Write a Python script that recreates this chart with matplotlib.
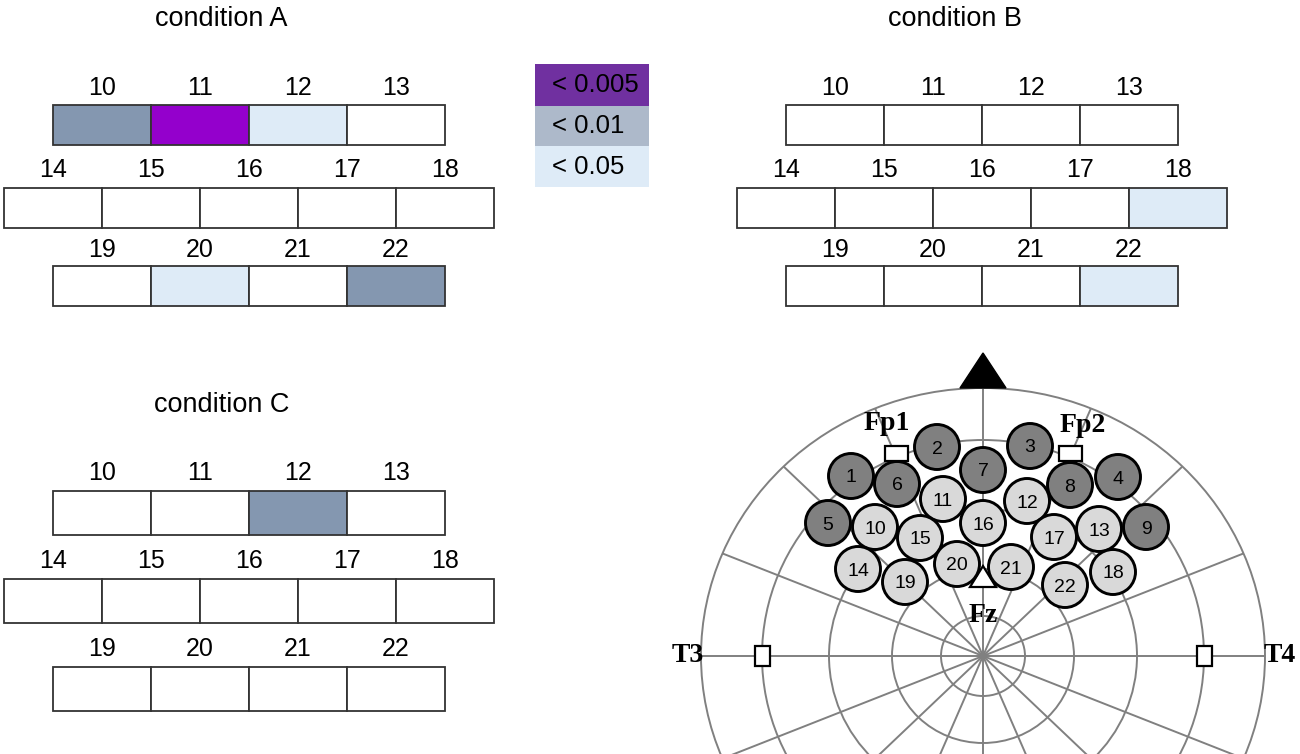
import numpy as np
import matplotlib
matplotlib.use("Agg")
import matplotlib.pyplot as plt
from matplotlib.patches import Rectangle, Ellipse, Circle, Polygon

# ---------------- data ----------------
grid_rows = [[10, 11, 12, 13], [14, 15, 16, 17, 18], [19, 20, 21, 22]]
condition_names = ["condition A", "condition B", "condition C"]
# significance level per channel: 1 = p<0.05, 2 = p<0.01, 3 = p<0.005 (missing = n.s.)
sig_A = {10: 2, 11: 3, 12: 1, 20: 1, 22: 2}
sig_B = {18: 1, 22: 1}
sig_C = {12: 2}
condition_sig = [sig_A, sig_B, sig_C]
legend_labels = ["< 0.005", "< 0.01", "< 0.05"]
legend_levels = [3, 2, 1]

# electrode montage (relative to head centre, px units, y up)
electrode_ids = list(range(1, 23))
electrode_dx = [-132, -46, 47, 135, -155, -86, 0, 87, 163, -108, -40, 44, 116,
                -125, -63, 0, 71, 130, -78, -26, 28, 82]
electrode_dy = [180, 209, 210, 179, 133, 172, 186, 171, 129, 129, 157, 155, 127,
                87, 118, 133, 119, 84, 74, 92, 89, 71]
dark_electrodes = [1, 2, 3, 4, 5, 6, 7, 8, 9]

ref_names = ["Fp1", "Fp2", "T3", "T4"]
ref_dx = [-87, 87, -221, 221]
ref_dy = [203, 203, 0, 0]
ref_label_dx = [-96, 100, -295, 297]
ref_label_dy = [233, 230, 0, 0]

# ---------------- styles ----------------
cell_colors = {0: "white", 1: "#DEEBF7", 2: "#8497B0", 3: "#9400CC"}
legend_colors = {3: "#7030A0", 2: "#ADB9CA", 1: "#DEEBF7"}
SANS = "Liberation Sans"
SERIF = "Liberation Serif"

fig = plt.figure(figsize=(13, 7.54), dpi=100)
ax = fig.add_axes([0, 0, 1, 1])
ax.set_xlim(0, 1300)
ax.set_ylim(754, 0)
ax.axis("off")

# ---------------- grid panels ----------------
cell_w = 98
panels = [
    dict(x0=53, tops=[105, 188, 266], h=40, base=[95, 177, 257], tx=221, ty=26),
    dict(x0=786, tops=[105, 188, 266], h=40, base=[95, 177, 257], tx=955, ty=26),
    dict(x0=53, tops=[491, 579, 667], h=44, base=[480, 568, 656], tx=222, ty=412),
]
for name, sig, p in zip(condition_names, condition_sig, panels):
    ax.text(p["tx"], p["ty"], name, ha="center", va="baseline",
            fontsize=19.5, family=SANS)
    for r, row in enumerate(grid_rows):
        x_start = p["x0"] - (cell_w / 2 if len(row) == 5 else 0)
        lefts = x_start + cell_w * np.arange(len(row))
        colors = [cell_colors[sig.get(ch, 0)] for ch in row]
        ax.bar(lefts, p["h"], width=cell_w, bottom=p["tops"][r], align="edge",
               color=colors, edgecolor="#333333", linewidth=1.3)
        for lx, ch in zip(lefts, row):
            ax.text(lx + cell_w / 2, p["base"][r], str(ch), ha="center",
                    va="baseline", fontsize=18, family=SANS)

# ---------------- legend ----------------
leg_x, leg_top, leg_w, leg_hs = 535, 64, 114, [42, 40, 41]
y = leg_top
for lab, lev, hh in zip(legend_labels, legend_levels, leg_hs):
    ax.bar(leg_x, hh, width=leg_w, bottom=y, align="edge",
           color=legend_colors[lev], linewidth=0)
    ax.text(leg_x + 17, y + hh / 2 + 7, lab, ha="left", va="baseline",
            fontsize=18.5, family=SANS)
    y += hh

# ---------------- head diagram ----------------
cx, cy = 983, 656
ring_rx = [42, 91, 154, 221, 282]
ring_ry = [40, 87, 147, 216, 268]
grid_col = "#808080"
for rx, ry in zip(ring_rx, ring_ry):
    ax.add_patch(Ellipse((cx, cy), 2 * rx, 2 * ry, fill=False,
                         edgecolor=grid_col, linewidth=1.4, zorder=1))
for ang in np.arange(0, 360, 22.5):
    t = np.deg2rad(ang)
    ax.plot([cx, cx + ring_rx[-1] * np.cos(t)], [cy, cy - ring_ry[-1] * np.sin(t)],
            color=grid_col, linewidth=1.4, zorder=1, solid_capstyle="butt")

# nose
ax.add_patch(Polygon([(cx, cy - 303), (cx - 23, cy - ring_ry[-1]), (cx + 23, cy - ring_ry[-1])],
                     closed=True, facecolor="black", edgecolor="black", zorder=3))

# reference electrodes
for nm, dx, dy, lx, ly in zip(ref_names, ref_dx, ref_dy, ref_label_dx, ref_label_dy):
    w, h = (23, 15) if nm.startswith("Fp") else (15, 20)
    ax.add_patch(Rectangle((cx + dx - w / 2, cy - dy - h / 2), w, h, facecolor="white",
                           edgecolor="black", linewidth=1.6, zorder=3))
    ax.text(cx + lx, cy - ly, nm, ha="center", va="center", fontsize=20,
            family=SERIF, fontweight="bold", zorder=6)
# Fz
ax.add_patch(Polygon([(cx, cy - 90), (cx - 13, cy - 69), (cx + 13, cy - 69)], closed=True,
                     facecolor="white", edgecolor="black", linewidth=1.6, zorder=3))
ax.text(cx, cy - 41, "Fz", ha="center", va="center", fontsize=20,
        family=SERIF, fontweight="bold", zorder=6)

# electrodes
for eid, dx, dy in zip(electrode_ids, electrode_dx, electrode_dy):
    fc = "#808080" if eid in dark_electrodes else "#D9D9D9"
    ax.add_patch(Circle((cx + dx, cy - dy), 22.5, facecolor=fc, edgecolor="black",
                        linewidth=2.1, zorder=4))
    ax.text(cx + dx, cy - dy, str(eid), ha="center", va="center_baseline",
            fontsize=14, family=SANS, zorder=5)

fig.savefig("out.png", dpi=100)
